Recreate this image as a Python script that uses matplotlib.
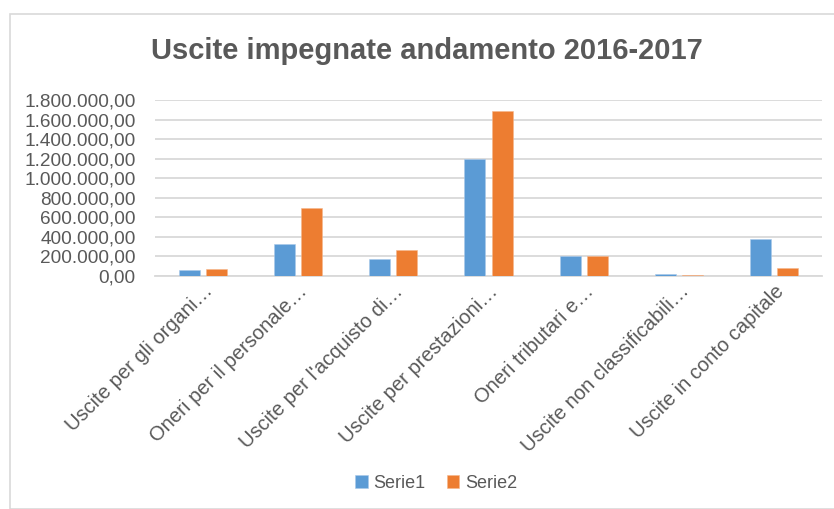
import numpy as np
import matplotlib
matplotlib.use("Agg")
import matplotlib.pyplot as plt
from matplotlib.patches import Rectangle
from matplotlib.ticker import FuncFormatter

categories = ["Uscite per gli organi…", "Oneri per il personale…", "Uscite per l'acquisto di…",
              "Uscite per prestazioni…", "Oneri tributari e…", "Uscite non classificabili…",
              "Uscite in conto capitale"]
serie1 = [61000, 324000, 171000, 1197000, 201000, 17000, 375000]
serie2 = [72000, 695000, 266000, 1684000, 205000, 15000, 82000]

plt.rcParams['font.family'] = ['Liberation Sans', 'DejaVu Sans']
gray = "#595959"

fig = plt.figure(figsize=(8.34, 5.09), dpi=100)
fig.patches.append(Rectangle((10/834, 0), 1, 1 - 14/509, transform=fig.transFigure,
                             fill=False, edgecolor="#d9d9d9", linewidth=1.2))
ax = fig.add_axes([155/834, 1 - 276/509, 667/834, 176/509])

x = np.arange(len(categories))
w = 0.22
off = 0.142
ax.bar(x - off, serie1, w, color="#5B9BD5", edgecolor="#a9c9ea", linewidth=0.4, label="Serie1", zorder=3)
ax.bar(x + off, serie2, w, color="#ED7D31", edgecolor="#f5b68c", linewidth=0.4, label="Serie2", zorder=3)

ax.set_xlim(-0.5, len(categories) - 0.5)
ax.set_ylim(0, 1800000)
ax.set_yticks(np.arange(0, 1800001, 200000))
ax.yaxis.set_major_formatter(FuncFormatter(lambda v, p: f"{v:,.2f}".replace(",", "X").replace(".", ",").replace("X", ".")))
ax.grid(axis="y", color="#d9d9d9", linewidth=1.3, zorder=0)
for s in ["top", "right", "left"]:
    ax.spines[s].set_visible(False)
ax.spines["bottom"].set_color("#d9d9d9")
ax.spines["bottom"].set_linewidth(1.3)
ax.tick_params(axis="both", length=0, labelsize=13.7, labelcolor=gray)
ax.tick_params(axis="y", pad=14)
ax.set_xticks(x)
ax.set_xticklabels(categories, rotation=45, ha="right", va="top", rotation_mode="anchor")
ax.tick_params(axis="x", pad=4, labelsize=14.5)

fig.text(427/834, 1 - 51/509, "Uscite impegnate andamento 2016-2017", ha="center", va="center",
         fontsize=21, fontweight="bold", color=gray)

fig.legend(loc="center", bbox_to_anchor=(436/834, 1 - 483/509), ncol=2, frameon=False,
           fontsize=13, labelcolor=gray, handlelength=0.7, handleheight=0.7,
           handletextpad=0.3, columnspacing=1.2)

fig.savefig("out.png", dpi=100)
